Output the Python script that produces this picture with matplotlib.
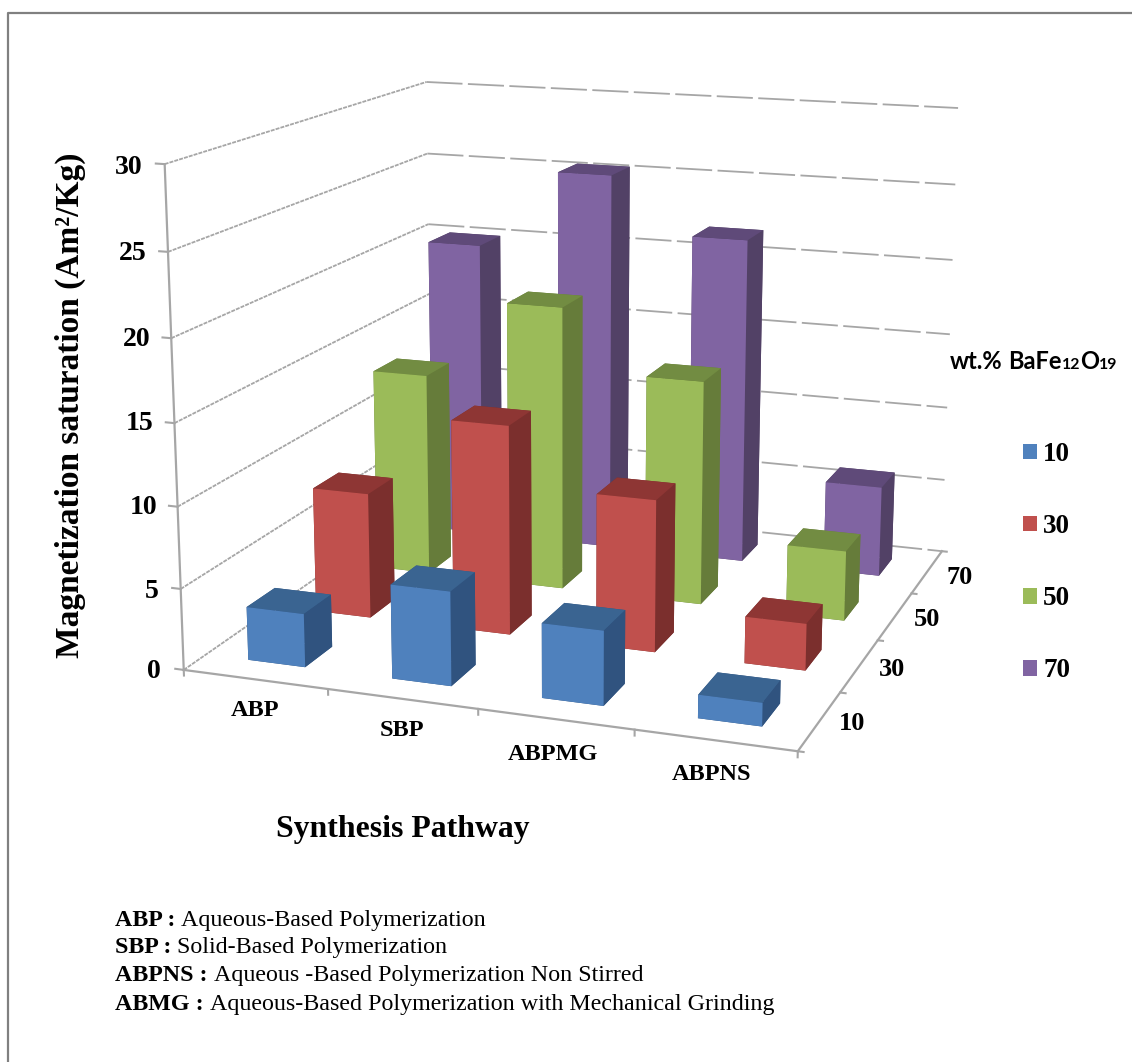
import numpy as np
import matplotlib
matplotlib.use("Agg")
import matplotlib.pyplot as plt
from matplotlib.patches import Patch

# data
pathways = ["ABP", "SBP", "ABPMG", "ABPNS"]
loadings = ["10", "30", "50", "70"]
sat_10 = [3.3, 5.75, 4.5, 1.4]
sat_30 = [8.0, 13.2, 9.5, 2.9]
sat_50 = [13.3, 18.5, 14.5, 4.5]
sat_70 = [20.1, 25.4, 21.7, 6.0]
z_ticks = [0, 5, 10, 15, 20, 25, 30]

front_colors = ["#4F81BD", "#C0504D", "#9BBB59", "#8064A2"]
top_colors = ["#3A6491", "#8E3634", "#728C42", "#5F4A79"]
side_colors = ["#30537F", "#7B2F2D", "#667C3A", "#524166"]

W, H = 1132, 1062
plt.rcParams['font.family'] = ['Liberation Serif', 'DejaVu Sans']

fig = plt.figure(figsize=(W / 100, H / 100), dpi=100)

# camera was fitted to the corners of the box in the picture
scale = 5173.686
L = scale * 0.185
left = 589.34 - scale * 0.095
bottom = H - (375.59 + scale * 0.095)
ax = fig.add_axes([left / W, bottom / H, L / W, L / H], projection='3d',
                  proj_type='persp', focal_length=0.50105)
ax.view_init(13.906, -70.628, -0.1195)
ax.set_box_aspect((3.7215, 3.7579, 3))
ax.computed_zorder = False
ax.set_axis_off()
ax.patch.set_alpha(0)

nx, ny = len(pathways), len(loadings)
zmax = z_ticks[-1]
ax.set_xlim(0, nx)
ax.set_ylim(0, ny)
ax.set_zlim(0, zmax)

grey = "#A6A6A6"
# walls
for z in z_ticks:
    ax.plot([0, 0], [0, ny], [z, z], color=grey, lw=1.3, ls=(0, (2.2, 0.6)), zorder=1)
    ax.plot([0, nx], [ny, ny], [z, z], color=grey, lw=1.3, ls=(0, (20, 3)), zorder=1)
    ax.plot([-0.06, 0], [0, 0], [z, z], color=grey, lw=1.5, zorder=1)
# axis lines
ax.plot([0, 0], [0, 0], [0, zmax], color=grey, lw=1.6, zorder=1)
ax.plot([0, nx], [0, 0], [0, 0], color=grey, lw=1.6, zorder=1)
ax.plot([nx, nx], [0, ny], [0, 0], color=grey, lw=1.6, zorder=1)
for i in range(nx + 1):
    ax.plot([i, i], [0, 0], [0, -0.35], color=grey, lw=1.5, zorder=1)
for j in range(ny + 1):
    ax.plot([nx, nx + 0.035], [j, j], [0, 0], color=grey, lw=1.5, zorder=1)

series = [sat_10, sat_30, sat_50, sat_70]
bar_w = 0.4
order = 2
for j in range(ny - 1, -1, -1):
    for i in range(nx):
        # faces: bottom, top, front, back, left, right
        cols = [side_colors[j], top_colors[j], front_colors[j],
                side_colors[j], side_colors[j], side_colors[j]]
        ax.bar3d(i + 0.5 - bar_w / 2, j + 0.5 - bar_w / 2, 0, bar_w, bar_w, series[j][i],
                 color=cols, shade=False, linewidth=0, zorder=order)
        order += 1

ax.set_xlim(0, nx)
ax.set_ylim(0, ny)
ax.set_zlim(0, zmax)


def px(x, y):
    return x / W, 1 - y / H


# border on the left and the top
fig.add_artist(plt.Line2D([8 / W, 8 / W, 1], [0, 1 - 13 / H, 1 - 13 / H], color="#808080", lw=1.6))

tick_right = [161, 159, 157, 153, 150, 147, 142]
tick_y = [672, 591, 508, 424, 339, 254, 167]
for t, xr, yy in zip(z_ticks, tick_right, tick_y):
    fig.text(*px(xr, yy), str(t), ha='right', va='center', fontsize=20, fontweight='bold')

for lab, pos in zip(pathways, [(255, 711), (402, 731), (553, 755), (712, 775)]):
    fig.text(*px(*pos), lab, ha='center', va='center', fontsize=17.5, fontweight='bold')

for lab, pos in zip(loadings, [(852, 724), (892, 670), (927, 620), (960, 577)]):
    fig.text(*px(*pos), lab, ha='center', va='center', fontsize=19, fontweight='bold')

fig.text(*px(70, 405), "Magnetization saturation (Am²/Kg)", rotation=90, ha='center', va='center',
         fontsize=24, fontweight='bold')
fig.text(*px(403, 829), "Synthesis Pathway", ha='center', va='center', fontsize=22.9, fontweight='bold')

renderer = fig.canvas.get_renderer()


def run_text(x, y, parts):
    # pieces of text one after the other on a shared baseline, y in pixels from the top
    for s, kw in parts:
        t = fig.text(*px(x, y), s, ha='left', va='baseline', **kw)
        x += t.get_window_extent(renderer).width


big = dict(family='Lato', fontweight='bold', fontsize=17)
small = dict(family='Lato', fontweight='bold', fontsize=11.4)
run_text(950, 369, [("wt.%", big), ("\u00a0", big), ("BaFe", big), ("12", small), ("O", big), ("19", small)])

handles = [Patch(facecolor=c) for c in front_colors]
leg = fig.legend(handles, loadings, loc='upper left', bbox_to_anchor=(1023 / W, 1 - 442 / H), frameon=False,
                 prop=dict(family='Liberation Serif', weight='bold', size=19.5),
                 handlelength=0.52, handleheight=0.52, labelspacing=1.74, handletextpad=0.23,
                 borderpad=0, borderaxespad=0)

bold = dict(fontweight='bold', fontsize=17.3)
reg = dict(fontsize=17.3)
run_text(115, 926, [("ABP :", bold), ("\u00a0Aqueous-Based Polymerization", reg)])
run_text(115, 953, [("SBP :", bold), ("\u00a0Solid-Based Polymerization", reg)])
run_text(115, 981, [("ABPNS :", bold), ("\u00a0Aqueous -Based Polymerization Non Stirred", reg)])
run_text(115, 1010, [("ABMG :", bold), ("\u00a0Aqueous-Based Polymerization with Mechanical Grinding", reg)])

fig.savefig("out.png", dpi=100)
